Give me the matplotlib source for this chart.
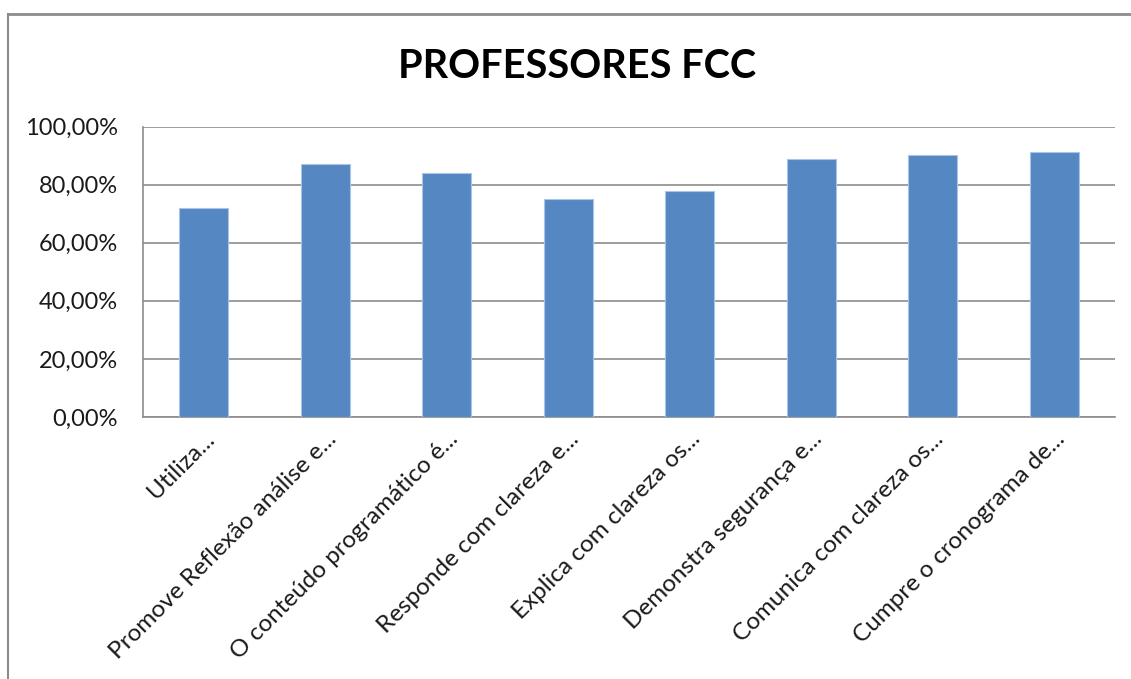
import matplotlib
matplotlib.use("Agg")
import matplotlib.pyplot as plt
from matplotlib.lines import Line2D

categories = [
    "Utiliza...",
    "Promove Reflexão análise e...",
    "O conteúdo programático é...",
    "Responde com clareza e...",
    "Explica com clareza os...",
    "Demonstra segurança e...",
    "Comunica com clareza os...",
    "Cumpre o cronograma de...",
]
values = [72.1, 87.2, 84.0, 75.1, 77.8, 88.9, 90.2, 91.2]
yticks = [0, 20, 40, 60, 80, 100]
ytick_labels = ["0,00%", "20,00%", "40,00%", "60,00%", "80,00%", "100,00%"]
title = "PROFESSORES FCC"

W, H = 1131, 679
fig = plt.figure(figsize=(W / 100, H / 100), dpi=100)
plt.rcParams['font.family'] = ['Lato', 'DejaVu Sans']

ax = fig.add_axes([143 / W, 1 - 417 / H, (1115 - 143) / W, (417 - 126.5) / H])
x = list(range(len(categories)))
ax.bar(x, values, width=0.40, color="#5587C2", edgecolor="#A9C4E6", linewidth=0.8, zorder=3)
ax.set_xlim(-0.5, len(categories) - 0.5)
ax.set_ylim(0, 100)
ax.set_yticks(yticks)
ax.set_yticklabels(ytick_labels, fontsize=17, color="#1a1a1a")
ax.set_xticks(x)
ax.set_xticklabels(categories, rotation=45, ha="right", rotation_mode="anchor",
                   fontsize=17.5, color="#1a1a1a")
ax.tick_params(axis="both", length=0)
ax.tick_params(axis="y", pad=18)
ax.tick_params(axis="x", pad=8)
ax.grid(axis="y", color="#8c8c8c", linewidth=1.2, zorder=0)
for s in ["top", "right"]:
    ax.spines[s].set_visible(False)
ax.spines["left"].set_color("#8c8c8c")
ax.spines["bottom"].set_color("#8c8c8c")
ax.spines["left"].set_linewidth(1.2)
ax.spines["bottom"].set_linewidth(1.2)

fig.text(577 / W, 1 - 66 / H, title, ha="center", va="center",
         fontsize=28.5, fontweight="bold", color="black")

# chart area border (top and left)
fig.add_artist(Line2D([8 / W, 1], [1 - 14 / H, 1 - 14 / H], color="#8c8c8c", linewidth=2))
fig.add_artist(Line2D([8 / W, 8 / W], [0, 1 - 14 / H], color="#8c8c8c", linewidth=1.5))

fig.savefig("out.png", dpi=100, facecolor="white")
